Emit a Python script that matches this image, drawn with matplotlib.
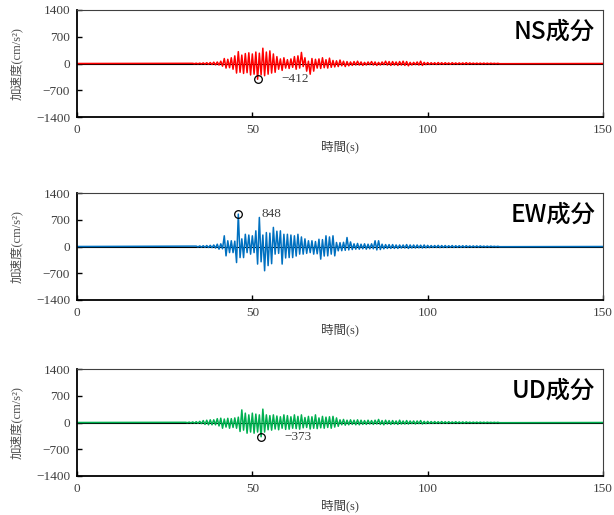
import numpy as np
import matplotlib
matplotlib.use('Agg')
import matplotlib.pyplot as plt

# fonts: serif for numbers, CJK for the Japanese labels
plt.rcParams['font.family'] = ['Liberation Serif', 'Noto Sans CJK JP']

# ---- data (envelope, 1 s steps, cm/s^2) ----
ns_start = 33
ns_upper = [5, 8, 10, 15, 20, 25, 35,
            40, 60, 130, 110, 150, 200, 310, 220, 260, 280,
            250, 300, 270, 400, 300, 330, 250, 180, 120, 150,
            100, 120, 180, 200, 290, 150, 60, 130, 110, 120,
            150, 100, 140, 80, 70, 90, 60, 50, 40, 50,
            60, 40, 30, 40, 50, 40, 30, 40, 60, 50,
            50, 40, 50, 60, 50, 30, 30, 40, 60, 30,
            25, 20, 20, 25, 20, 20, 15, 20, 15, 15,
            15, 20, 15, 10, 10, 10, 10, 8, 8, 5, 5]
ns_lower = [-5, -8, -10, -15, -20, -25, -35,
            -40, -70, -120, -110, -150, -250, -230, -260, -240, -300,
            -280, -412, -300, -320, -280, -250, -230, -150, -180, -120,
            -130, -100, -150, -120, -80, -200, -280, -200, -120, -130,
            -110, -120, -100, -90, -80, -60, -80, -60, -50, -40,
            -40, -50, -40, -30, -40, -50, -40, -30, -40, -50,
            -40, -50, -40, -50, -60, -40, -30, -40, -50, -30,
            -25, -20, -25, -20, -20, -15, -20, -15, -15, -15,
            -15, -15, -10, -10, -10, -10, -8, -8, -5, -5, -5]

ew_start = 34
ew_upper = [10, 15, 20, 25, 30, 40,
            60, 70, 280, 150, 150, 140, 848, 200, 320, 300,
            280, 410, 760, 300, 365, 350, 500, 400, 410, 320,
            320, 300, 280, 320, 250, 200, 150, 150, 130, 190,
            180, 280, 250, 280, 105, 100, 110, 235, 120, 70,
            80, 60, 70, 60, 70, 150, 150, 60, 50, 50,
            50, 40, 40, 40, 50, 40, 40, 40, 35, 40,
            30, 25, 25, 30, 25, 25, 20, 25, 20, 20,
            20, 20, 15, 15, 15, 15, 10, 10, 10, 5, 5]
ew_lower = [-10, -15, -20, -25, -30, -40,
            -70, -60, -245, -160, -160, -420, -290, -290, -160, -200,
            -160, -460, -400, -635, -500, -450, -200, -180, -460, -300,
            -290, -290, -250, -200, -200, -180, -160, -200, -190, -330,
            -250, -245, -200, -245, -113, -110, -100, -90, -80, -70,
            -70, -60, -70, -60, -60, -90, -80, -60, -50, -50,
            -50, -50, -40, -40, -50, -40, -40, -35, -40, -35,
            -30, -25, -25, -30, -25, -25, -20, -25, -20, -20,
            -20, -15, -15, -15, -15, -10, -10, -10, -5, -5, -5]

ud_start = 31
ud_upper = [5, 10, 15, 20, 30, 50, 60, 70, 70,
            100, 113, 90, 110, 100, 120, 140, 330, 245, 200,
            245, 220, 200, 350, 200, 180, 200, 170, 150, 200,
            180, 150, 200, 160, 200, 130, 160, 150, 200, 120,
            160, 140, 150, 160, 120, 70, 80, 60, 70, 60,
            70, 60, 50, 60, 50, 60, 80, 50, 60, 50,
            50, 40, 60, 40, 50, 40, 40, 40, 50, 30,
            30, 25, 25, 20, 25, 20, 20, 15, 20, 15,
            15, 15, 10, 10, 10, 10, 8, 8, 5, 5, 5]
ud_lower = [-5, -10, -15, -20, -30, -50, -60, -60, -60,
            -90, -150, -120, -150, -130, -150, -235, -200, -280, -250,
            -280, -250, -373, -250, -190, -200, -170, -190, -150, -180,
            -175, -150, -160, -175, -140, -130, -170, -150, -160, -140,
            -150, -130, -150, -120, -100, -60, -70, -60, -50, -60,
            -60, -50, -50, -40, -50, -40, -50, -60, -40, -50,
            -40, -50, -40, -40, -40, -30, -40, -30, -40, -30,
            -25, -25, -20, -20, -20, -20, -15, -15, -15, -15,
            -15, -10, -10, -10, -10, -8, -8, -5, -5, -5, -5]

titles = ['NS成分', 'EW成分', 'UD成分']
colors = ['#FF0000', '#0070C0', '#00B050']
peak_values = [-412, 848, -373]
yticks = [-1400, -700, 0, 700, 1400]
ytick_labels = ['−1400', '−700', '0', '700', '1400']
xticks = [0, 50, 100, 150]


def zigzag(start, upper, lower):
    # alternate upper/lower envelope values half a second apart
    t = []
    a = []
    for i, (u, l) in enumerate(zip(upper, lower)):
        t += [start + i, start + i + 0.5]
        a += [u, l]
    t = [0] + t + [150]
    a = [0] + a + [0]
    return np.array(t), np.array(a)


series = [zigzag(ns_start, ns_upper, ns_lower),
          zigzag(ew_start, ew_upper, ew_lower),
          zigzag(ud_start, ud_upper, ud_lower)]

fig = plt.figure(figsize=(6.14, 5.15), dpi=100)

# axes boxes in pixels: (top, bottom)
boxes = [(10, 117), (193, 300), (369, 476)]
left_px, right_px = 77, 603
W, H = 614, 515

for k in range(3):
    top, bot = boxes[k]
    ax = fig.add_axes([left_px / W, 1 - bot / H, (right_px - left_px) / W, (bot - top) / H])
    t, a = series[k]

    ax.axhline(0, color='black', lw=0.8, zorder=1)
    ax.plot(t, a, color=colors[k], lw=1.1, zorder=2)

    # peak marker at the labelled peak value
    ip = np.argmin(np.abs(a - peak_values[k]))
    ax.plot(t[ip], a[ip], 'o', mfc='none', mec='black', ms=5.5, mew=0.9, zorder=4)
    ax.annotate(f'{peak_values[k]}'.replace('-', '−'), (t[ip], a[ip]), xytext=(17, 0),
                textcoords='offset points', ha='left', va='center', fontsize=9.5, color='#404040')

    ax.text(0.985, 0.8, titles[k], transform=ax.transAxes, ha='right', va='center',
            fontsize=17.5, family=['Noto Sans CJK JP'], fontweight='medium', color='black')

    ax.set_xlim(0, 150)
    ax.set_ylim(-1400, 1400)
    ax.set_xticks(xticks)
    ax.set_xticklabels([str(x) for x in xticks])
    ax.set_yticks(yticks)
    ax.set_yticklabels(ytick_labels)
    ax.tick_params(direction='in', length=3.5, width=1, labelsize=9.5, colors='black',
                   labelcolor='#404040', pad=5)

    for side in ['top', 'right']:
        ax.spines[side].set_linewidth(0.8)
        ax.spines[side].set_color('#404040')
    for side in ['left', 'bottom']:
        ax.spines[side].set_linewidth(1.3)
        ax.spines[side].set_color('black')

    ax.set_xlabel('時間(s)', fontsize=9, color='#404040', labelpad=3)
    ax.set_ylabel('加速度(cm/s²)', fontsize=9, color='#505050', labelpad=9)

fig.savefig('out.png', dpi=100)
